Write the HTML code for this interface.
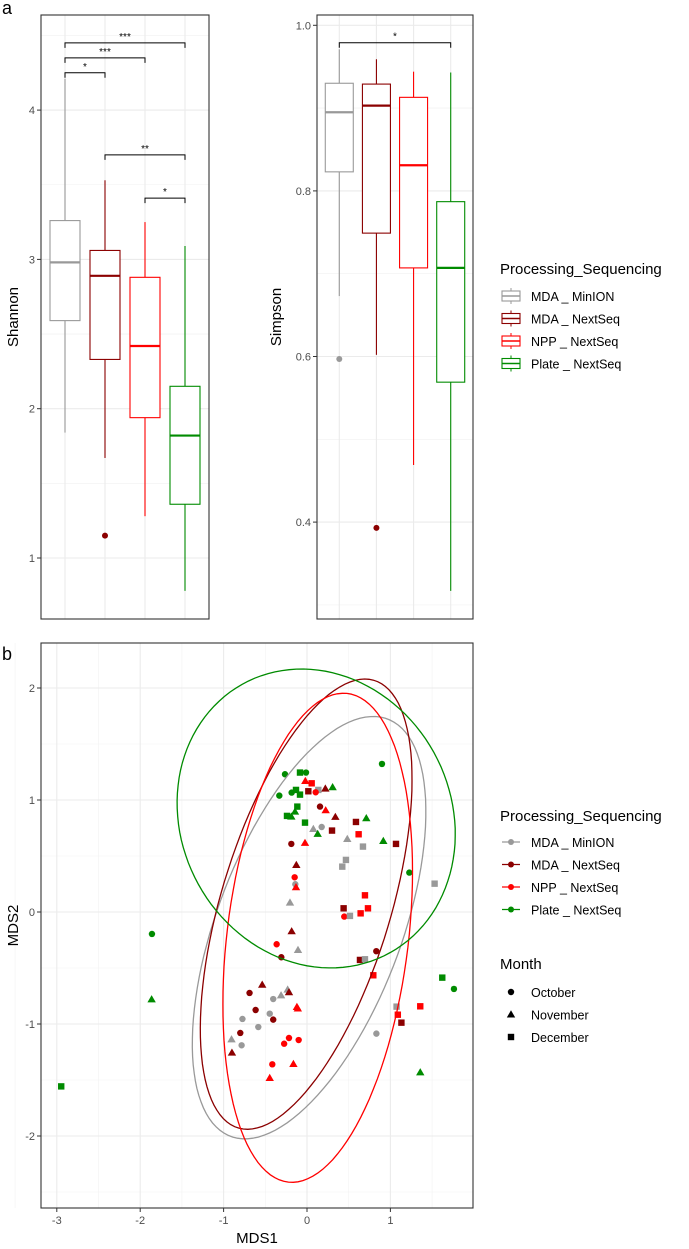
<!DOCTYPE html>
<html><head><meta charset="utf-8"><style>
html,body{margin:0;padding:0;background:#fff}
svg{display:block;font-family:"Liberation Sans",Arial,sans-serif}
</style></head><body>
<svg id="fig" width="689" height="1249" viewBox="0 0 689 1249" xmlns="http://www.w3.org/2000/svg"></svg>
<script>
// ---- data ----
const groups = ["MDA _ MinION","MDA _ NextSeq","NPP _ NextSeq","Plate _ NextSeq"];
const colors = ["#999999","#8B0000","#FF0000","#008B00"];
const shannonLow = [1.84,1.67,1.28,0.78];
const shannonQ1 = [2.59,2.33,1.94,1.36];
const shannonMed = [2.98,2.89,2.42,1.82];
const shannonQ3 = [3.26,3.06,2.88,2.15];
const shannonHigh = [4.21,3.53,3.25,3.09];
const shannonOut = [[1,1.15]];
const shannonTicks = [1,2,3,4];
const shannonSig = [[0,3,4.45,"***"],[0,2,4.35,"***"],[0,1,4.25,"*"],[1,3,3.70,"**"],[2,3,3.41,"*"]];
const simpsonLow = [0.673,0.602,0.469,0.317];
const simpsonQ1 = [0.823,0.749,0.707,0.569];
const simpsonMed = [0.895,0.903,0.831,0.707];
const simpsonQ3 = [0.930,0.929,0.913,0.787];
const simpsonHigh = [0.971,0.959,0.944,0.943];
const simpsonOut = [[0,0.597],[1,0.393]];
const simpsonTicks = [0.4,0.6,0.8,1.0];
const simpsonSig = [[0,3,0.979,"*"]];
const months = ["October","November","December"];
const xTicks = [-3,-2,-1,0,1];
const yTicks = [-2,-1,0,1,2];
// points: [mds1, mds2, group, month]
const pts = [
[0.899,1.322,3,0],[-0.264,1.23,3,0],[-0.084,1.245,3,2],[-0.012,1.245,3,0],[-0.02,1.17,2,1],[0.056,1.149,2,2],
[0.136,1.09,0,2],[0.22,1.102,1,1],[0.307,1.114,3,1],[0.016,1.078,1,2],[0.104,1.069,2,0],[-0.332,1.039,3,0],
[-0.184,1.066,3,0],[-0.132,1.09,3,2],[-0.084,1.048,3,2],[0.156,0.941,1,0],[0.224,0.908,2,1],[-0.116,0.941,3,2],
[-0.144,0.896,3,1],[-0.24,0.858,3,2],[-0.188,0.852,3,1],[0.34,0.849,1,1],[0.711,0.837,3,1],[-0.024,0.798,3,2],
[0.587,0.804,1,2],[0.076,0.741,0,1],[0.176,0.759,0,0],[0.3,0.727,1,2],[0.128,0.697,3,1],[0.619,0.694,2,2],
[0.483,0.652,0,1],[0.671,0.584,0,2],[0.915,0.634,3,1],[1.067,0.608,1,2],[-0.188,0.608,1,0],[-0.024,0.617,2,1],
[-0.128,0.42,1,1],[0.467,0.465,0,2],[0.423,0.405,0,2],[1.227,0.352,3,0],[1.53,0.253,0,2],[-0.148,0.31,2,0],
[-0.14,0.248,0,0],[-0.132,0.221,2,1],[-0.204,0.084,0,1],[0.695,0.149,2,2],[0.439,0.033,1,2],[0.731,0.033,2,2],
[0.643,-0.012,2,2],[0.447,-0.041,2,0],[0.515,-0.035,0,2],[-1.859,-0.196,3,0],[-0.184,-0.172,1,1],[-0.364,-0.288,2,0],
[-0.108,-0.339,0,1],[-0.308,-0.404,1,0],[0.831,-0.35,1,0],[0.635,-0.428,1,2],[0.695,-0.422,0,2],[0.795,-0.565,2,2],
[1.622,-0.586,3,2],[1.762,-0.687,3,0],[-1.863,-0.78,3,1],[-0.537,-0.649,1,1],[-0.689,-0.723,1,0],[-0.405,-0.777,0,0],
[-0.311,-0.744,0,1],[-0.232,-0.693,0,1],[-0.216,-0.717,1,1],[-0.121,-0.848,2,1],[-0.11,-0.862,2,1],[-0.616,-0.875,1,0],
[-0.774,-0.955,0,0],[-0.447,-0.908,0,0],[-0.405,-0.961,1,0],[-0.584,-1.027,0,0],[-0.8,-1.08,1,0],[-0.905,-1.137,0,1],
[-0.216,-1.125,2,0],[-0.1,-1.143,2,0],[-0.274,-1.176,2,0],[-0.784,-1.19,0,0],[-0.9,-1.256,1,1],[-0.416,-1.36,2,0],
[-0.163,-1.357,2,1],[-0.447,-1.482,2,1],[1.358,-1.432,3,1],[-2.947,-1.557,3,2],[1.358,-0.842,2,2],[1.074,-0.845,0,2],
[1.089,-0.917,2,2],[1.132,-0.988,1,2],[0.832,-1.086,0,0]
];
// ellipses per group: cx, cy, a, b, angle(deg) in data units
const ellCx = [0.025,-0.01,0.128,0.11];
const ellCy = [-0.14,0.07,-0.23,0.835];
const ellA = [2.101,2.166,2.212,1.683];
const ellB = [1.05,0.98,1.08,1.315];
const ellAng = [59.4,65.3,79.4,-12.45];

// ---- drawing ----
const NS="http://www.w3.org/2000/svg";
const svg=document.getElementById('fig');
function el(tag,attrs,parent){const e=document.createElementNS(NS,tag);for(const k in attrs)e.setAttribute(k,attrs[k]);(parent||svg).appendChild(e);return e;}
function txt(s,attrs,parent){const e=el('text',attrs,parent);e.textContent=s;return e;}

function boxPanel(cfg){
  const g=el('g',{});
  
  
  const {x0,x1,y0,y1,vmin,vmax}=cfg;
  const sy=v=>y1-(v-vmin)/(vmax-vmin)*(y1-y0);
  const cx=i=>x0+(x1-x0)*(i+0.5+cfg.pad)/(4+2*cfg.pad);
  // minor grid
  for(let i=0;i<cfg.ticks.length;i++){
    const m=cfg.ticks[i]+cfg.step/2, m2=cfg.ticks[i]-cfg.step/2;
    [m,m2].forEach(v=>{const y=sy(v);if(y>y0&&y<y1)el('line',{x1:x0,x2:x1,y1:y,y2:y,stroke:'#f2f2f2','stroke-width':0.6},g);});
  }
  cfg.ticks.forEach(v=>{const y=sy(v);
    el('line',{x1:x0,x2:x1,y1:y,y2:y,stroke:'#ebebeb','stroke-width':1.1},g);
    el('line',{x1:x0-4,x2:x0,y1:y,y2:y,stroke:'#333','stroke-width':1},g);
    const t=txt(cfg.fmt(v),{x:x0-6,y:y+4,'text-anchor':'end','font-size':11,fill:'#4d4d4d'},g);
    
    
  });
  for(let i=0;i<4;i++){el('line',{x1:cx(i),x2:cx(i),y1:y0,y2:y1,stroke:'#ebebeb','stroke-width':1.1},g);}
  for(let i=0;i<4;i++){
    const c=colors[i], x=cx(i), hw=cfg.hw;
    const b=el('g',{},g);
    
    
    el('line',{x1:x,x2:x,y1:sy(cfg.high[i]),y2:sy(cfg.q3[i]),stroke:c,'stroke-width':1.1},b);
    el('line',{x1:x,x2:x,y1:sy(cfg.q1[i]),y2:sy(cfg.low[i]),stroke:c,'stroke-width':1.1},b);
    el('rect',{x:x-hw,y:sy(cfg.q3[i]),width:2*hw,height:sy(cfg.q1[i])-sy(cfg.q3[i]),fill:'#fff',stroke:c,'stroke-width':1.1},b);
    el('line',{x1:x-hw,x2:x+hw,y1:sy(cfg.med[i]),y2:sy(cfg.med[i]),stroke:c,'stroke-width':2.2},b);
  }
  cfg.out.forEach(o=>{const d=el('circle',{cx:cx(o[0]),cy:sy(o[1]),r:3,fill:colors[o[0]]},g);
    
    });
  cfg.sig.forEach(s=>{const y=sy(s[2]),xa=cx(s[0]),xb=cx(s[1]);
    const br=el('path',{d:`M${xa},${y+5}V${y}H${xb}V${y+5}`,fill:'none',stroke:'#000','stroke-width':1},g);
    
    
    txt(s[3],{x:(xa+xb)/2,y:y-3,'text-anchor':'middle','font-size':10,fill:'#000'},g);
  });
  el('rect',{x:x0,y:y0,width:x1-x0,height:y1-y0,fill:'none',stroke:'#333','stroke-width':1.1},g);
  const t=txt(cfg.title,{x:0,y:0,transform:`translate(${cfg.titleX},${(y0+y1)/2}) rotate(-90)`,'text-anchor':'middle','font-size':15,fill:'#000'},g);
  
  
}

boxPanel({name:'shannon-panel',x0:41,x1:209,y0:15,y1:619,vmin:1+(558-619)/-149.3*-1,vmax:1+(558-15)/149.3,
  ticks:shannonTicks,step:1,fmt:v=>String(v),low:shannonLow,q1:shannonQ1,med:shannonMed,q3:shannonQ3,high:shannonHigh,
  out:shannonOut,sig:shannonSig,hw:15,pad:0.1,title:'Shannon',titleX:18});
boxPanel({name:'simpson-panel',x0:317,x1:473,y0:15,y1:619,vmin:1-(619-25.3)/828,vmax:1+(25.3-15)/828,
  ticks:simpsonTicks,step:0.2,fmt:v=>v.toFixed(1),low:simpsonLow,q1:simpsonQ1,med:simpsonMed,q3:simpsonQ3,high:simpsonHigh,
  out:simpsonOut,sig:simpsonSig,hw:14,pad:0.1,title:'Simpson',titleX:281});

txt('a',{x:2,y:14,'font-size':18,fill:'#000'});
txt('b',{x:2,y:660,'font-size':18,fill:'#000'});

// top legend
const lg=el('g',{});


txt('Processing_Sequencing',{x:500,y:274,'font-size':15,fill:'#000'},lg);
groups.forEach((gname,i)=>{const y=296+i*22.5,c=colors[i];
  const it=el('g',{},lg);
  
  
  el('line',{x1:511,x2:511,y1:y-8,y2:y+8,stroke:c,'stroke-width':1},it);
  el('rect',{x:502,y:y-5,width:18,height:10,fill:'#fff',stroke:c,'stroke-width':1.1},it);
  el('line',{x1:502,x2:520,y1:y,y2:y,stroke:c,'stroke-width':1.6},it);
  txt(gname,{x:531,y:y+5,'font-size':12.5,fill:'#000'},it);
});

// scatter
const SX0=41,SX1=473,SY0=643,SY1=1208;
const px=v=>307+83.4*v, py=v=>912-112*v;
const sg=el('g',{});


for(let v=-3.5;v<=2;v+=1){el('line',{x1:px(v),x2:px(v),y1:SY0,y2:SY1,stroke:'#f2f2f2','stroke-width':0.6},sg);}
for(let v=-2.5;v<=2.5;v+=1){const y=py(v);if(y>SY0&&y<SY1)el('line',{x1:SX0,x2:SX1,y1:y,y2:y,stroke:'#f2f2f2','stroke-width':0.6},sg);}
xTicks.forEach(v=>{el('line',{x1:px(v),x2:px(v),y1:SY0,y2:SY1,stroke:'#ebebeb','stroke-width':1.1},sg);
  el('line',{x1:px(v),x2:px(v),y1:SY1,y2:SY1+4,stroke:'#333'},sg);
  const t=txt(String(v),{x:px(v),y:SY1+16,'text-anchor':'middle','font-size':11,fill:'#4d4d4d'},sg);
  
  });
yTicks.forEach(v=>{el('line',{x1:SX0,x2:SX1,y1:py(v),y2:py(v),stroke:'#ebebeb','stroke-width':1.1},sg);
  el('line',{x1:SX0-4,x2:SX0,y1:py(v),y2:py(v),stroke:'#333'},sg);
  const t=txt(String(v),{x:SX0-6,y:py(v)+4,'text-anchor':'end','font-size':11,fill:'#4d4d4d'},sg);
  
  });
function shape(x,y,m,c,parent){
  let e;
  if(m===0)e=el('circle',{cx:x,cy:y,r:3.2,fill:c},parent);
  else if(m===1)e=el('path',{d:`M${x},${y-4.2}L${x+4.2},${y+3}L${x-4.2},${y+3}Z`,fill:c},parent);
  else e=el('rect',{x:x-3.2,y:y-3.2,width:6.4,height:6.4,fill:c},parent);
  return e;
}
pts.forEach(p=>{const e=shape(px(p[0]),py(p[1]),p[3],colors[p[2]],sg);
  
  });
for(let i=0;i<4;i++){
  const th=ellAng[i]*Math.PI/180;let d='';
  for(let k=0;k<=120;k++){const t=k/120*2*Math.PI;
    const x=ellCx[i]+ellA[i]*Math.cos(th)*Math.cos(t)-ellB[i]*Math.sin(th)*Math.sin(t);
    const y=ellCy[i]+ellA[i]*Math.sin(th)*Math.cos(t)+ellB[i]*Math.cos(th)*Math.sin(t);
    d+=(k?'L':'M')+px(x).toFixed(1)+','+py(y).toFixed(1);}
  const e=el('path',{d:d+'Z',fill:'none',stroke:colors[i],'stroke-width':1.3},sg);
  
  
}
el('rect',{x:SX0,y:SY0,width:SX1-SX0,height:SY1-SY0,fill:'none',stroke:'#333','stroke-width':1.1},sg);
txt('MDS1',{x:(SX0+SX1)/2,y:1243,'text-anchor':'middle','font-size':15,fill:'#000'},sg);
txt('MDS2',{x:0,y:0,transform:`translate(18,${(SY0+SY1)/2}) rotate(-90)`,'text-anchor':'middle','font-size':15,fill:'#000'},sg);

// scatter legends
const l2=el('g',{});


txt('Processing_Sequencing',{x:500,y:821,'font-size':15,fill:'#000'},l2);
groups.forEach((gname,i)=>{const y=842+i*22.5,c=colors[i];
  const it=el('g',{},l2);
  
  
  el('line',{x1:502,x2:520,y1:y,y2:y,stroke:c,'stroke-width':1.2},it);
  el('circle',{cx:511,cy:y,r:3,fill:c},it);
  txt(gname,{x:531,y:y+5,'font-size':12.5,fill:'#000'},it);
});
const l3=el('g',{});


txt('Month',{x:500,y:969,'font-size':15,fill:'#000'},l3);
months.forEach((m,i)=>{const y=992+i*22.5;
  const it=el('g',{},l3);
  
  
  shape(511,y,i,'#000',it);
  txt(m,{x:531,y:y+5,'font-size':12.5,fill:'#000'},it);
});
</script>
</body></html>
